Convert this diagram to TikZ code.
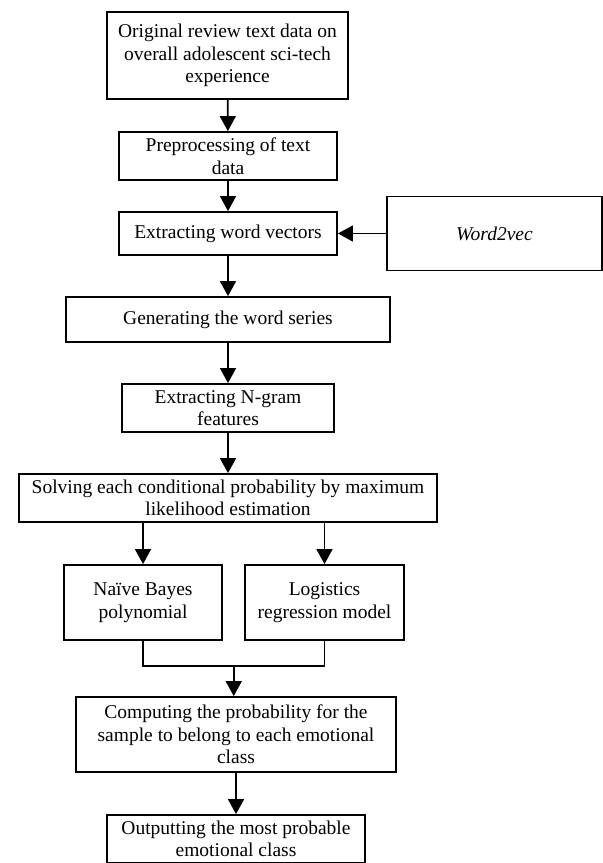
\documentclass[tikz,border=0pt]{standalone}
\usepackage{fontspec}
\setmainfont{Liberation Serif}
\usetikzlibrary{calc,positioning,arrows.meta}
\tikzset{
  flowtext/.style={font=\fontsize{19.5}{22.5}\selectfont},
  block/.style={
    draw, line width=1.8pt, align=center, flowtext,
    inner sep=1pt, minimum height=48pt,
  },
  wire/.style={line width=1.6pt},
  arrow/.style={wire, -{Triangle[length=15pt,width=16pt]}},
}

\begin{document}
\begin{tikzpicture}[x=1pt, y=-1pt]
  \useasboundingbox (0,0) rectangle (603,863);

  \node[block, minimum width=241pt, minimum height=87pt] (orig) at (227.5,55.5)
    {Original review text data on\\overall adolescent sci-tech\\experience};
  \node[block, minimum width=218pt] (prep) at (228,156)
    {Preprocessing of text\\data};
  \node[block, minimum width=218pt, minimum height=43pt] (wvec) at (228,233.5)
    {Extracting word vectors};
  \node[block, minimum width=215pt, minimum height=74pt] (w2v) at (494.5,233.5)
    {\itshape Word2vec};

  \node[block, minimum width=324pt, minimum height=45pt] (gen) at (228,319.5)
    {Generating the word series};
  \node[block, minimum width=212pt] (ngram) at (228,408)
    {Extracting N-gram\\features};
  \node[block, minimum width=418pt] (solve) at (228,498)
    {Solving each conditional probability by maximum\\likelihood estimation};

  % two models side by side
  \node[block, minimum width=158pt, minimum height=75pt] (bayes) at (143,602.5)
    {Naïve Bayes\\polynomial};
  \node[block, minimum width=159pt, minimum height=75pt] (logit) at (324.5,602.5)
    {Logistics\\regression model};

  \coordinate (join) at ($(bayes.south)!0.5!(logit.south)+(0,25)$);
  \node[block, minimum width=320pt, minimum height=75pt] (comp) at (236,734.5)
    {Computing the probability for the\\sample to belong to each emotional\\class};
  \node[block, minimum width=258pt, minimum height=48pt] (out) at (236,839)
    {Outputting the most probable\\emotional class};

  \draw[arrow] (orig) -- (prep);
  \draw[arrow] (prep) -- (wvec);
  \draw[arrow] (w2v) -- (wvec);
  \draw[arrow] (wvec) -- (gen);
  \draw[arrow] (gen) -- (ngram);
  \draw[arrow] (ngram) -- (solve);
  \draw[arrow] (solve.south -| bayes) -- (bayes);
  \draw[arrow] (solve.south -| logit) -- (logit);
  \draw[wire] (bayes.south) |- (join) -| (logit.south);
  \draw[arrow] (join) -- (join |- comp.north);
  \draw[arrow] (comp.south -| out) -- (out);

\end{tikzpicture}
\end{document}
